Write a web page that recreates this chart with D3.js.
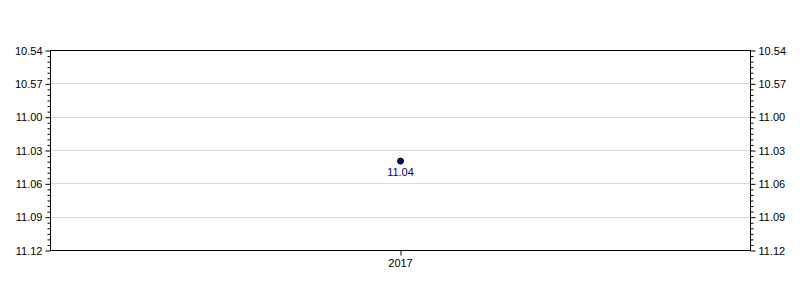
<!DOCTYPE html>
<html>
<head>
<meta charset="utf-8">
<script src="https://cdn.jsdelivr.net/npm/d3@7"></script>
<style>
  body { margin: 0; background: #fff; }
  text { font-family: "Liberation Sans", Arial, sans-serif; }
</style>
</head>
<body>
<svg id="chart" width="800" height="300"></svg>
<script>
// data: times as minutes.seconds
const years = ["2017"];
const times = ["11.04"];
const tickLabels = ["10.54", "10.57", "11.00", "11.03", "11.06", "11.09", "11.12"];

function toSec(s) {
  const p = s.split(".");
  return +p[0] * 60 + +p[1];
}
function fmt(sec) {
  const m = Math.floor(sec / 60), s = Math.round(sec - m * 60);
  return m + "." + (s < 10 ? "0" + s : s);
}

const svg = d3.select("#chart");
const mLeft = 50, mRight = 750, mTop = 50, mBottom = 250;

const tickSecs = tickLabels.map(toSec);
const y = d3.scaleLinear()
  .domain([tickSecs[0], tickSecs[tickSecs.length - 1]])
  .range([mTop, mBottom]);
const x = d3.scalePoint().domain(years).range([mLeft, mRight]).padding(0.5);

const minor = d3.range(tickSecs[0], tickSecs[tickSecs.length - 1] + 0.01, 0.5)
  .filter(function (d) { return tickSecs.indexOf(d) < 0; });

// grid
svg.append("g").selectAll("line")
  .data(tickSecs.slice(1, -1))
  .enter().append("line")
  .attr("x1", mLeft).attr("x2", mRight)
  .attr("y1", function (d) { return Math.round(y(d)) + 0.5; })
  .attr("y2", function (d) { return Math.round(y(d)) + 0.5; })
  .attr("stroke", "#d9d9d9");

function drawAxis(axisFn, xpos) {
  const g = svg.append("g").attr("transform", "translate(" + (xpos + 0.5) + ",0.5)");
  g.call(axisFn(y).tickValues(minor).tickSize(3).tickFormat(""));
  g.select(".domain").remove();
  const g2 = svg.append("g").attr("transform", "translate(" + (xpos + 0.5) + ",0.5)");
  g2.call(axisFn(y).tickValues(tickSecs).tickSize(5).tickPadding(3).tickFormat(fmt));
  g2.selectAll("text").attr("font-size", 11).attr("fill", "#000")
    .attr("font-family", "Liberation Sans, Arial, sans-serif");
  g2.select(".domain").attr("d", "M0," + mTop + "V" + mBottom);
}
drawAxis(d3.axisLeft, mLeft);
drawAxis(d3.axisRight, mRight);

// top frame line
svg.append("line").attr("x1", mLeft).attr("x2", mRight + 1)
  .attr("y1", mTop + 0.5).attr("y2", mTop + 0.5).attr("stroke", "#000");

const gx = svg.append("g").attr("transform", "translate(0," + (mBottom + 0.5) + ")");
gx.call(d3.axisBottom(x).tickSize(5).tickPadding(4).tickSizeOuter(0));
gx.select(".domain").attr("d", "M" + mLeft + ",0H" + (mRight + 1));
gx.selectAll(".tick line").attr("transform", "translate(0.5,0)");
gx.selectAll("text").attr("font-size", 11).attr("fill", "#000")
  .attr("font-family", "Liberation Sans, Arial, sans-serif");

// points
const data = years.map(function (yr, i) { return { year: yr, t: times[i] }; });
svg.selectAll(".pt").data(data).enter().append("circle")
  .attr("class", "pt")
  .attr("cx", function (d) { return x(d.year) + 0.5; })
  .attr("cy", function (d) { return y(toSec(d.t)); })
  .attr("r", 3)
  .attr("fill", "#00008b")
  .attr("stroke", "#000")
  .attr("stroke-width", 1);

svg.selectAll(".lbl").data(data).enter().append("text")
  .attr("class", "lbl")
  .attr("x", function (d) { return x(d.year) + 0.5; })
  .attr("y", function (d) { return y(toSec(d.t)) + 15; })
  .attr("text-anchor", "middle")
  .attr("font-size", 11)
  .attr("fill", "#00008b")
  .text(function (d) { return d.t; });
</script>
</body>
</html>
